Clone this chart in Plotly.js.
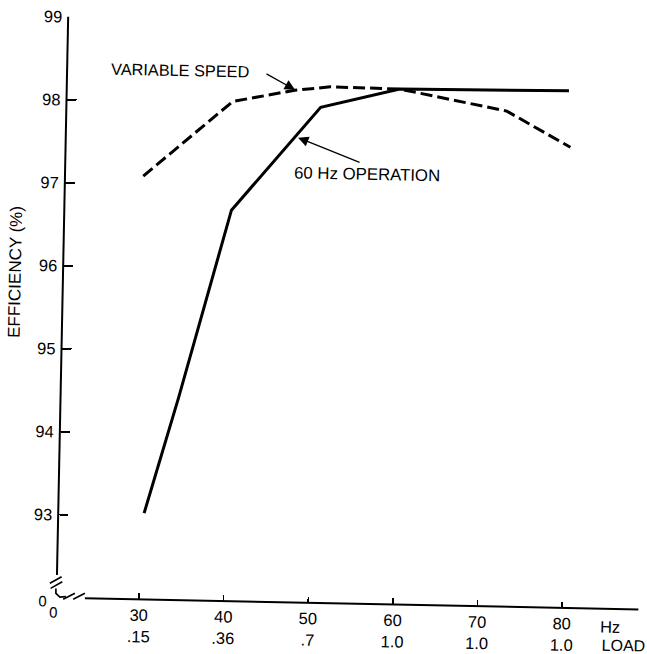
<!DOCTYPE html>
<html>
<head>
<meta charset="utf-8">
<script src="https://cdn.plot.ly/plotly-3.0.1.min.js"></script>
<style>
  html, body { margin: 0; padding: 0; background: #fff; overflow: hidden; }
  #chart {
    position: absolute; left: 0; top: 0;
    width: 660px; height: 654px;
    /* the printed figure sits slightly askew on the page */
    transform: rotate(1.15deg);
    transform-origin: 323.5px 327px;
  }
</style>
</head>
<body>
<div id="chart"></div>
<script>
// Motor efficiency versus supply frequency / load
const hzTicks    = [30, 40, 50, 60, 70, 80];
const loadLabels = ['.15', '.36', '.7', '1.0', '1.0', '1.0'];
const effTicks   = [93, 94, 95, 96, 97, 98, 99];

// 60 Hz operation (solid curve)
const fixedHz  = [30.4, 34.2, 40.0, 50.3, 59.6, 79.6];
const fixedEff = [93.04, 94.44, 96.71, 97.97, 98.21, 98.23];

// Variable speed (dashed curve)
const varHz  = [29.5, 39.9, 47.2, 51.4, 59.6, 72.3, 79.9];
const varEff = [97.10, 98.02, 98.17, 98.22, 98.21, 97.97, 97.55];

const W = 660, H = 654;
const M = { l: 62, r: 16, t: 22, b: 51 };
const plotW = W - M.l - M.r, plotH = H - M.t - M.b;
const xRange = [20.25, 89.03];
const yRange = [92, 99];

// pixel -> paper helpers for items placed outside the data area
const px = p => (p - M.l) / plotW;
const py = p => (H - M.b - p) / plotH;
const seg = (x0, y0, x1, y1) => ({
  type: 'line', xref: 'paper', yref: 'paper',
  x0: px(x0), y0: py(y0), x1: px(x1), y1: py(y1),
  line: { color: '#000', width: 1.7 }
});

const font = 'Liberation Sans, Arial, Helvetica, sans-serif';
const txt = (size) => ({ family: font, size, color: '#000' });
const label = (x, y, text, size, extra) => Object.assign({
  x: px(x), y: py(y), xref: 'paper', yref: 'paper', text,
  xanchor: 'center', yanchor: 'middle', showarrow: false, font: txt(size)
}, extra || {});

const traces = [
  {
    x: fixedHz, y: fixedEff, type: 'scatter', mode: 'lines',
    line: { color: '#000', width: 3 }, name: '60 Hz OPERATION',
    cliponaxis: false
  },
  {
    x: varHz, y: varEff, type: 'scatter', mode: 'lines',
    line: { color: '#000', width: 3, dash: '12px,5px' }, name: 'VARIABLE SPEED',
    cliponaxis: false
  }
];

const shapes = [
  // vertical axis, stopping short of the break
  { type: 'line', xref: 'paper', yref: 'paper', x0: 0, x1: 0, y0: py(580.4), y1: 1,
    line: { color: '#000', width: 2 } },
  // horizontal axis, starting after the break
  { type: 'line', xref: 'paper', yref: 'paper', x0: px(90.4), x1: 1, y0: 0, y1: 0,
    line: { color: '#000', width: 2 } },
  // break marks on the vertical axis
  seg(55.1, 588.8, 66.7, 581.9),
  seg(55.9, 593.8, 67.4, 586.9),
  // stub running into the origin
  { type: 'path', xref: 'paper', yref: 'paper',
    path: `M ${px(61.2)} ${py(593.7)} L ${px(61.3)} ${py(598.7)} L ${px(65.4)} ${py(602.3)} L ${px(71.4)} ${py(601.7)}`,
    line: { color: '#000', width: 1.7 } },
  // break marks on the horizontal axis
  seg(68.7, 604.5, 80.3, 598.3),
  seg(78.7, 604.3, 90.3, 598.1)
];

const annotations = [
  { x: 33.6, y: 98.38, xref: 'x', yref: 'y', text: 'VARIABLE SPEED', showarrow: false,
    font: txt(16.3) },
  { x: 47.23, y: 98.175, ax: 43.64, ay: 98.37, xref: 'x', yref: 'y', axref: 'x', ayref: 'y',
    text: '', showarrow: true, arrowhead: 2, arrowsize: 1.6, arrowwidth: 1.3, arrowcolor: '#000' },
  { x: 55.97, y: 97.17, xref: 'x', yref: 'y', text: '60 Hz OPERATION', showarrow: false,
    font: txt(16.8) },
  { x: 47.7, y: 97.60, ax: 55.2, ay: 97.31, xref: 'x', yref: 'y', axref: 'x', ayref: 'y',
    text: '', showarrow: true, arrowhead: 2, arrowsize: 1.6, arrowwidth: 1.3, arrowcolor: '#000' },
  label(13.9, 278.2, 'EFFICIENCY (%)', 17, { textangle: -90 }),
  label(48, 606.6, '0', 15),
  label(58.7, 617.9, '0', 15),
  label(604, 621.4, 'Hz', 16.5, { xanchor: 'left' }),
  label(606.4, 639, 'LOAD', 16, { xanchor: 'left' })
];

const layout = {
  width: W, height: H,
  margin: M,
  paper_bgcolor: '#fff', plot_bgcolor: '#fff',
  showlegend: false,
  font: { family: font, color: '#000' },
  xaxis: {
    range: xRange, showgrid: false, zeroline: false, showline: false,
    tickmode: 'array', tickvals: hzTicks,
    ticktext: hzTicks.map((h, i) => h + '<br>' + loadLabels[i]),
    ticks: 'inside', ticklen: 6, tickwidth: 1.5, tickcolor: '#000',
    ticklabelstandoff: 4,
    tickfont: txt(16.5)
  },
  yaxis: {
    range: yRange, showgrid: false, zeroline: false, showline: false,
    tickmode: 'array', tickvals: effTicks, ticktext: effTicks.map(String),
    ticks: 'inside', ticklen: 10, tickwidth: 1.5, tickcolor: '#000',
    ticklabelstandoff: 5,
    tickfont: txt(16.5)
  },
  shapes, annotations
};

Plotly.newPlot('chart', traces, layout, { displayModeBar: false, staticPlot: true });
</script>
</body>
</html>
